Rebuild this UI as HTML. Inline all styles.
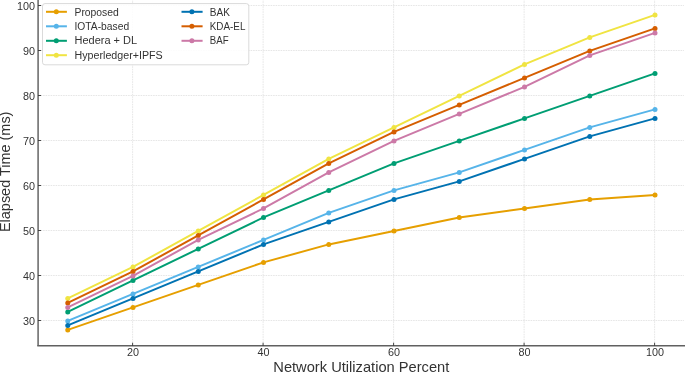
<!DOCTYPE html>
<html><head><meta charset="utf-8"><style>
html,body{margin:0;padding:0;background:#fff;}
svg{display:block;will-change:transform;}
text{font-family:"Liberation Sans",sans-serif;fill:#333;}
</style></head><body>
<svg width="685" height="372" viewBox="0 0 685 372">
<rect width="685" height="372" fill="#fff"/>
<g stroke="#e0e0e0" stroke-width="0.8" stroke-dasharray="1.6 0.9"><line x1="132.60" y1="-1.25" x2="132.60" y2="345.75"/><line x1="263.10" y1="-1.25" x2="263.10" y2="345.75"/><line x1="393.60" y1="-1.25" x2="393.60" y2="345.75"/><line x1="524.10" y1="-1.25" x2="524.10" y2="345.75"/><line x1="654.60" y1="-1.25" x2="654.60" y2="345.75"/><line x1="38.10" y1="320.50" x2="683.96" y2="320.50"/><line x1="38.10" y1="275.50" x2="683.96" y2="275.50"/><line x1="38.10" y1="230.50" x2="683.96" y2="230.50"/><line x1="38.10" y1="185.50" x2="683.96" y2="185.50"/><line x1="38.10" y1="140.50" x2="683.96" y2="140.50"/><line x1="38.10" y1="95.50" x2="683.96" y2="95.50"/><line x1="38.10" y1="50.50" x2="683.96" y2="50.50"/><line x1="38.10" y1="5.50" x2="683.96" y2="5.50"/></g>
<polyline points="67.75,329.90 133.00,307.40 198.25,284.90 263.50,262.40 328.75,244.40 394.00,230.90 459.25,217.40 524.50,208.40 589.75,199.40 655.00,194.90" fill="none" stroke="#E69F00" stroke-width="2.0" stroke-linejoin="round" stroke-linecap="butt"/>
<g fill="#E69F00"><circle cx="67.75" cy="329.90" r="2.5"/><circle cx="133.00" cy="307.40" r="2.5"/><circle cx="198.25" cy="284.90" r="2.5"/><circle cx="263.50" cy="262.40" r="2.5"/><circle cx="328.75" cy="244.40" r="2.5"/><circle cx="394.00" cy="230.90" r="2.5"/><circle cx="459.25" cy="217.40" r="2.5"/><circle cx="524.50" cy="208.40" r="2.5"/><circle cx="589.75" cy="199.40" r="2.5"/><circle cx="655.00" cy="194.90" r="2.5"/></g>
<polyline points="67.75,320.90 133.00,293.90 198.25,266.90 263.50,239.90 328.75,212.90 394.00,190.40 459.25,172.40 524.50,149.90 589.75,127.40 655.00,109.40" fill="none" stroke="#56B4E9" stroke-width="2.0" stroke-linejoin="round" stroke-linecap="butt"/>
<g fill="#56B4E9"><circle cx="67.75" cy="320.90" r="2.5"/><circle cx="133.00" cy="293.90" r="2.5"/><circle cx="198.25" cy="266.90" r="2.5"/><circle cx="263.50" cy="239.90" r="2.5"/><circle cx="328.75" cy="212.90" r="2.5"/><circle cx="394.00" cy="190.40" r="2.5"/><circle cx="459.25" cy="172.40" r="2.5"/><circle cx="524.50" cy="149.90" r="2.5"/><circle cx="589.75" cy="127.40" r="2.5"/><circle cx="655.00" cy="109.40" r="2.5"/></g>
<polyline points="67.75,311.90 133.00,280.40 198.25,248.90 263.50,217.40 328.75,190.40 394.00,163.40 459.25,140.90 524.50,118.40 589.75,95.90 655.00,73.40" fill="none" stroke="#009E73" stroke-width="2.0" stroke-linejoin="round" stroke-linecap="butt"/>
<g fill="#009E73"><circle cx="67.75" cy="311.90" r="2.5"/><circle cx="133.00" cy="280.40" r="2.5"/><circle cx="198.25" cy="248.90" r="2.5"/><circle cx="263.50" cy="217.40" r="2.5"/><circle cx="328.75" cy="190.40" r="2.5"/><circle cx="394.00" cy="163.40" r="2.5"/><circle cx="459.25" cy="140.90" r="2.5"/><circle cx="524.50" cy="118.40" r="2.5"/><circle cx="589.75" cy="95.90" r="2.5"/><circle cx="655.00" cy="73.40" r="2.5"/></g>
<polyline points="67.75,298.40 133.00,266.90 198.25,230.90 263.50,194.90 328.75,158.90 394.00,127.40 459.25,95.90 524.50,64.40 589.75,37.40 655.00,14.90" fill="none" stroke="#F0E442" stroke-width="2.0" stroke-linejoin="round" stroke-linecap="butt"/>
<g fill="#F0E442"><circle cx="67.75" cy="298.40" r="2.5"/><circle cx="133.00" cy="266.90" r="2.5"/><circle cx="198.25" cy="230.90" r="2.5"/><circle cx="263.50" cy="194.90" r="2.5"/><circle cx="328.75" cy="158.90" r="2.5"/><circle cx="394.00" cy="127.40" r="2.5"/><circle cx="459.25" cy="95.90" r="2.5"/><circle cx="524.50" cy="64.40" r="2.5"/><circle cx="589.75" cy="37.40" r="2.5"/><circle cx="655.00" cy="14.90" r="2.5"/></g>
<polyline points="67.75,325.40 133.00,298.40 198.25,271.40 263.50,244.40 328.75,221.90 394.00,199.40 459.25,181.40 524.50,158.90 589.75,136.40 655.00,118.40" fill="none" stroke="#0072B2" stroke-width="2.0" stroke-linejoin="round" stroke-linecap="butt"/>
<g fill="#0072B2"><circle cx="67.75" cy="325.40" r="2.5"/><circle cx="133.00" cy="298.40" r="2.5"/><circle cx="198.25" cy="271.40" r="2.5"/><circle cx="263.50" cy="244.40" r="2.5"/><circle cx="328.75" cy="221.90" r="2.5"/><circle cx="394.00" cy="199.40" r="2.5"/><circle cx="459.25" cy="181.40" r="2.5"/><circle cx="524.50" cy="158.90" r="2.5"/><circle cx="589.75" cy="136.40" r="2.5"/><circle cx="655.00" cy="118.40" r="2.5"/></g>
<polyline points="67.75,302.90 133.00,271.40 198.25,235.40 263.50,199.40 328.75,163.40 394.00,131.90 459.25,104.90 524.50,77.90 589.75,50.90 655.00,28.40" fill="none" stroke="#D55E00" stroke-width="2.0" stroke-linejoin="round" stroke-linecap="butt"/>
<g fill="#D55E00"><circle cx="67.75" cy="302.90" r="2.5"/><circle cx="133.00" cy="271.40" r="2.5"/><circle cx="198.25" cy="235.40" r="2.5"/><circle cx="263.50" cy="199.40" r="2.5"/><circle cx="328.75" cy="163.40" r="2.5"/><circle cx="394.00" cy="131.90" r="2.5"/><circle cx="459.25" cy="104.90" r="2.5"/><circle cx="524.50" cy="77.90" r="2.5"/><circle cx="589.75" cy="50.90" r="2.5"/><circle cx="655.00" cy="28.40" r="2.5"/></g>
<polyline points="67.75,307.40 133.00,275.90 198.25,239.90 263.50,208.40 328.75,172.40 394.00,140.90 459.25,113.90 524.50,86.90 589.75,55.40 655.00,32.90" fill="none" stroke="#CC79A7" stroke-width="2.0" stroke-linejoin="round" stroke-linecap="butt"/>
<g fill="#CC79A7"><circle cx="67.75" cy="307.40" r="2.5"/><circle cx="133.00" cy="275.90" r="2.5"/><circle cx="198.25" cy="239.90" r="2.5"/><circle cx="263.50" cy="208.40" r="2.5"/><circle cx="328.75" cy="172.40" r="2.5"/><circle cx="394.00" cy="140.90" r="2.5"/><circle cx="459.25" cy="113.90" r="2.5"/><circle cx="524.50" cy="86.90" r="2.5"/><circle cx="589.75" cy="55.40" r="2.5"/><circle cx="655.00" cy="32.90" r="2.5"/></g>
<line x1="38.1" y1="-1.25" x2="38.1" y2="345.75" stroke="#777" stroke-width="1.7"/><line x1="37.25" y1="345.75" x2="685.9625000000001" y2="345.75" stroke="#606060" stroke-width="1.5"/>
<g stroke="#333" stroke-width="0.9"><line x1="132.60" y1="345.75" x2="132.60" y2="342.75"/><line x1="263.10" y1="345.75" x2="263.10" y2="342.75"/><line x1="393.60" y1="345.75" x2="393.60" y2="342.75"/><line x1="524.10" y1="345.75" x2="524.10" y2="342.75"/><line x1="654.60" y1="345.75" x2="654.60" y2="342.75"/><line x1="38.1" y1="320.50" x2="41.1" y2="320.50"/><line x1="38.1" y1="275.50" x2="41.1" y2="275.50"/><line x1="38.1" y1="230.50" x2="41.1" y2="230.50"/><line x1="38.1" y1="185.50" x2="41.1" y2="185.50"/><line x1="38.1" y1="140.50" x2="41.1" y2="140.50"/><line x1="38.1" y1="95.50" x2="41.1" y2="95.50"/><line x1="38.1" y1="50.50" x2="41.1" y2="50.50"/><line x1="38.1" y1="5.50" x2="41.1" y2="5.50"/></g>
<text x="133.05" y="356.1" font-size="10.8" text-anchor="middle">20</text>
<text x="263.55" y="356.1" font-size="10.8" text-anchor="middle">40</text>
<text x="394.05" y="356.1" font-size="10.8" text-anchor="middle">60</text>
<text x="524.55" y="356.1" font-size="10.8" text-anchor="middle">80</text>
<text x="655.05" y="356.1" font-size="10.8" text-anchor="middle">100</text>
<text x="34.9" y="324.60" font-size="10.8" text-anchor="end">30</text>
<text x="34.9" y="279.60" font-size="10.8" text-anchor="end">40</text>
<text x="34.9" y="234.60" font-size="10.8" text-anchor="end">50</text>
<text x="34.9" y="189.60" font-size="10.8" text-anchor="end">60</text>
<text x="34.9" y="144.60" font-size="10.8" text-anchor="end">70</text>
<text x="34.9" y="99.60" font-size="10.8" text-anchor="end">80</text>
<text x="34.9" y="54.60" font-size="10.8" text-anchor="end">90</text>
<text x="34.9" y="9.60" font-size="10.8" text-anchor="end">100</text>
<text x="361.3" y="371.8" font-size="13.9" text-anchor="middle" textLength="176" lengthAdjust="spacingAndGlyphs">Network Utilization Percent</text>
<text transform="translate(10.0,171.8) rotate(-90)" x="0" y="0" font-size="13.9" text-anchor="middle" textLength="120.5" lengthAdjust="spacingAndGlyphs">Elapsed Time (ms)</text>
<rect x="42.5" y="3.6" width="206.3" height="61.2" rx="2.5" ry="2.5" fill="#fff" fill-opacity="0.85" stroke="#dadada" stroke-width="1.0"/>
<line x1="46" y1="11.8" x2="66.9" y2="11.8" stroke="#E69F00" stroke-width="2.0"/><circle cx="56.3" cy="11.8" r="2.5" fill="#E69F00"/>
<text x="74.5" y="15.6" font-size="10.0" textLength="44.3" lengthAdjust="spacingAndGlyphs">Proposed</text>
<line x1="46" y1="26.3" x2="66.9" y2="26.3" stroke="#56B4E9" stroke-width="2.0"/><circle cx="56.3" cy="26.3" r="2.5" fill="#56B4E9"/>
<text x="74.5" y="29.8" font-size="10.0" textLength="54.6" lengthAdjust="spacingAndGlyphs">IOTA-based</text>
<line x1="46" y1="40.8" x2="66.9" y2="40.8" stroke="#009E73" stroke-width="2.0"/><circle cx="56.3" cy="40.8" r="2.5" fill="#009E73"/>
<text x="74.5" y="44.3" font-size="10.0" textLength="62.6" lengthAdjust="spacingAndGlyphs">Hedera + DL</text>
<line x1="46" y1="55.2" x2="66.9" y2="55.2" stroke="#F0E442" stroke-width="2.0"/><circle cx="56.3" cy="55.2" r="2.5" fill="#F0E442"/>
<text x="74.5" y="58.6" font-size="10.0" textLength="88.2" lengthAdjust="spacingAndGlyphs">Hyperledger+IPFS</text>
<line x1="181.5" y1="11.8" x2="202.6" y2="11.8" stroke="#0072B2" stroke-width="2.0"/><circle cx="191.9" cy="11.8" r="2.5" fill="#0072B2"/>
<text x="209.8" y="15.6" font-size="10.0" textLength="20.1" lengthAdjust="spacingAndGlyphs">BAK</text>
<line x1="181.5" y1="26.3" x2="202.6" y2="26.3" stroke="#D55E00" stroke-width="2.0"/><circle cx="191.9" cy="26.3" r="2.5" fill="#D55E00"/>
<text x="209.8" y="29.8" font-size="10.0" textLength="35.6" lengthAdjust="spacingAndGlyphs">KDA-EL</text>
<line x1="181.5" y1="40.8" x2="202.6" y2="40.8" stroke="#CC79A7" stroke-width="2.0"/><circle cx="191.9" cy="40.8" r="2.5" fill="#CC79A7"/>
<text x="209.8" y="44.3" font-size="10.0" textLength="18.8" lengthAdjust="spacingAndGlyphs">BAF</text>
</svg></body></html>
